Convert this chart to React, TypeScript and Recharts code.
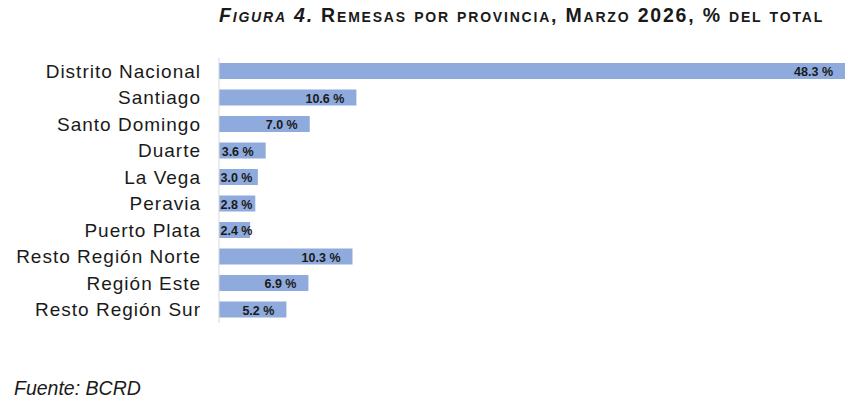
import React from 'react';
import { BarChart, Bar, XAxis, YAxis, LabelList } from 'recharts';

const categories = [
  'Distrito Nacional',
  'Santiago',
  'Santo Domingo',
  'Duarte',
  'La Vega',
  'Peravia',
  'Puerto Plata',
  'Resto Región Norte',
  'Región Este',
  'Resto Región Sur',
];
const shares = [48.3, 10.6, 7.0, 3.6, 3.0, 2.8, 2.4, 10.3, 6.9, 5.2];

const data = categories.map((name, i) => ({ name, value: shares[i] }));

const FONT = '"Liberation Sans", Arial, sans-serif';
const LABEL_SIZE = 12.5;

const charW: Record<string, number> = { '.': 0.278, ' ': 0.278, '%': 0.889 };
const estWidth = (s: string, size: number) =>
  s.split('').reduce((a, c) => a + (charW[c] ?? 0.556), 0) * size;

const BarValueLabel = (props: any) => {
  const { x, y, width, height, value } = props;
  const text = `${Number(value).toFixed(1)} %`;
  const w = estWidth(text, LABEL_SIZE);
  let start = x + width - 12 - w;
  if (start < x + 1.5) start = x + 1.5;
  return (
    <text
      x={start}
      y={y + height / 2}
      dy="0.4em"
      textAnchor="start"
      fontSize={LABEL_SIZE}
      fontWeight="bold"
      fill="#1a1a1a"
      fontFamily={FONT}
    >
      {text}
    </text>
  );
};

export default function App() {
  return (
    <div style={{ position: 'absolute', left: 0, top: 0, width: 848, height: 410, background: '#fff', fontFamily: FONT }}>
      <div
        style={{
          position: 'absolute',
          right: 24,
          top: 5,
          fontSize: 19.5,
          lineHeight: '20px',
          fontWeight: 'bold',
          fontVariant: 'small-caps',
          color: '#1a1a1a',
          whiteSpace: 'nowrap',
          letterSpacing: 1.8,
        }}
      >
        <i>Figura 4.</i> Remesas por provincia, Marzo 2026, % del total
      </div>
      <BarChart
        width={848}
        height={410}
        layout="vertical"
        data={data}
        margin={{ top: 58, right: 3, bottom: 87, left: 0 }}
        barSize={16}
      >
        <XAxis type="number" hide domain={[0, 'dataMax']} />
        <YAxis
          type="category"
          dataKey="name"
          width={219}
          tickSize={0}
          tickMargin={18}
          axisLine={{ stroke: '#d9d9d9' }}
          tickLine={false}
          interval={0}
          tick={{ fontSize: 19, fill: '#1a1a1a', fontFamily: FONT, letterSpacing: 1 }}
        />
        <Bar dataKey="value" fill="#8faadc" isAnimationActive={false}>
          <LabelList dataKey="value" content={BarValueLabel} />
        </Bar>
      </BarChart>
      <div
        style={{
          position: 'absolute',
          left: 14,
          top: 378,
          fontSize: 19.5,
          lineHeight: '20px',
          fontStyle: 'italic',
          color: '#1a1a1a',
        }}
      >
        Fuente: BCRD
      </div>
    </div>
  );
}
